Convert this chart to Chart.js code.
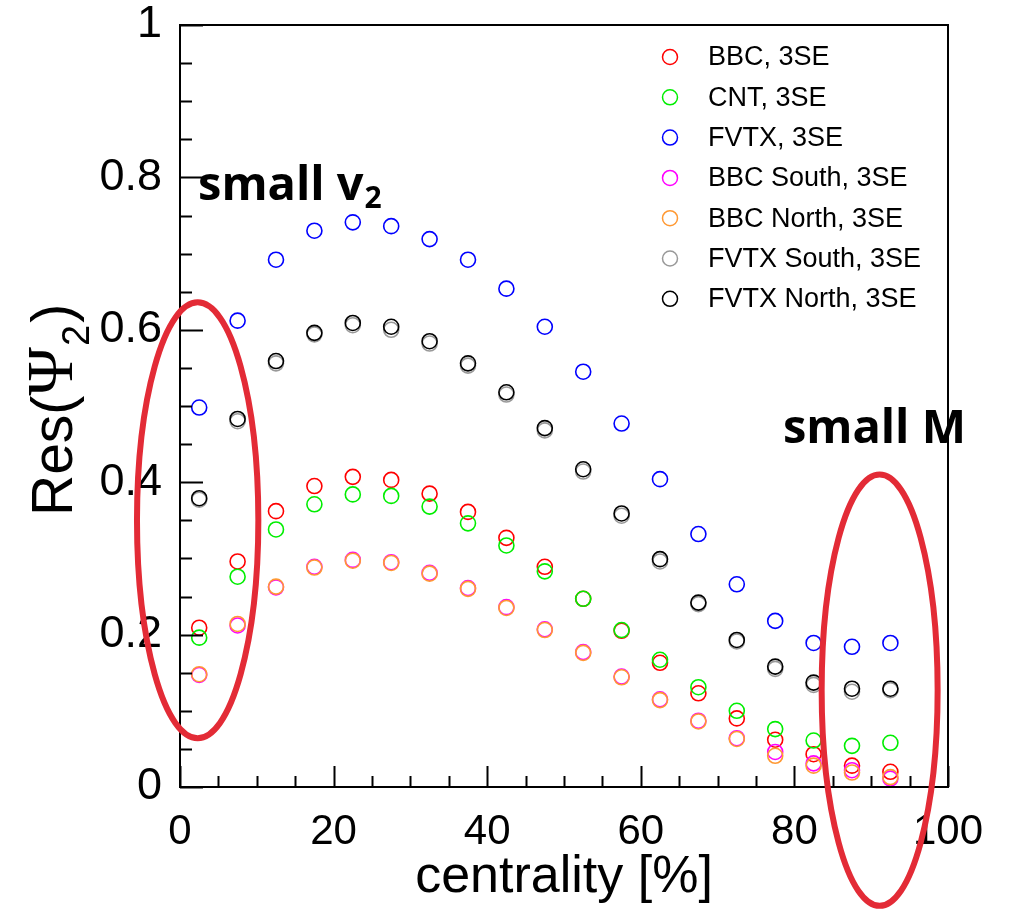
<!DOCTYPE html>
<html>
<head>
<meta charset="utf-8">
<script src="https://cdn.jsdelivr.net/npm/chart.js@4.4.0/dist/chart.umd.min.js"></script>
<style>
  html, body { margin: 0; padding: 0; background: #fff; }
  canvas { display: block; }
</style>
</head>
<body>
<canvas id="grafico" width="1011" height="909"></canvas>
<script>
// Centralidade (centro de cada bin de 5%)
const centralidade = [2.5, 7.5, 12.5, 17.5, 22.5, 27.5, 32.5, 37.5, 42.5, 47.5, 52.5, 57.5, 62.5, 67.5, 72.5, 77.5, 82.5, 87.5, 92.5];

// Resolucao Res(Psi_2) por detector
const bbc       = [0.209, 0.296, 0.362, 0.395, 0.407, 0.403, 0.385, 0.361, 0.327, 0.289, 0.247, 0.205, 0.163, 0.123, 0.090, 0.062, 0.043, 0.028, 0.020];
const cnt       = [0.196, 0.276, 0.338, 0.371, 0.384, 0.382, 0.368, 0.346, 0.317, 0.283, 0.247, 0.206, 0.167, 0.131, 0.100, 0.076, 0.061, 0.054, 0.058];
const fvtx      = [0.498, 0.612, 0.692, 0.730, 0.741, 0.736, 0.719, 0.692, 0.654, 0.604, 0.545, 0.477, 0.404, 0.332, 0.266, 0.218, 0.189, 0.184, 0.189];
const bbcSouth  = [0.147, 0.212, 0.262, 0.289, 0.298, 0.295, 0.281, 0.261, 0.236, 0.207, 0.177, 0.145, 0.115, 0.087, 0.064, 0.046, 0.031, 0.022, 0.011];
const bbcNorth  = [0.148, 0.214, 0.263, 0.288, 0.297, 0.294, 0.280, 0.260, 0.235, 0.206, 0.176, 0.144, 0.114, 0.086, 0.063, 0.041, 0.028, 0.019, 0.013];
const fvtxSouth = [0.377, 0.480, 0.556, 0.594, 0.606, 0.600, 0.582, 0.553, 0.515, 0.468, 0.414, 0.356, 0.296, 0.240, 0.191, 0.155, 0.134, 0.125, 0.127];
const fvtxNorth = [0.379, 0.483, 0.559, 0.596, 0.609, 0.604, 0.585, 0.556, 0.518, 0.471, 0.417, 0.359, 0.299, 0.242, 0.193, 0.158, 0.137, 0.129, 0.129];

const nomes  = ['BBC, 3SE', 'CNT, 3SE', 'FVTX, 3SE', 'BBC South, 3SE', 'BBC North, 3SE', 'FVTX South, 3SE', 'FVTX North, 3SE'];
const series = [bbc, cnt, fvtx, bbcSouth, bbcNorth, fvtxSouth, fvtxNorth];
const cores  = ['#ff0000', '#00ee00', '#0000ff', '#ff00ff', '#ff9933', '#999999', '#000000'];

// Ticks dos eixos
const ticksX = [0, 20, 40, 60, 80, 100];
const ticksY = [0, 0.2, 0.4, 0.6, 0.8, 1];

// Anotacoes (elipses em coordenadas de dados)
const elipses = [
    { cx: 2.3, cy: 0.350, rx: 7.9, ry: 0.286 },
    { cx: 91.1, cy: 0.127, rx: 7.55, ry: 0.283 }
];

const datasets = series.map((valores, i) => ({
    label: nomes[i],
    data: valores.map((v, j) => ({ x: centralidade[j], y: v })),
    borderColor: cores[i],
    backgroundColor: 'rgba(0,0,0,0)',
    pointRadius: 7.5,
    pointBorderWidth: 1.6,
    pointHoverRadius: 7.5,
    showLine: false,
    order: series.length - i // ultimos desenhados por cima, como no ROOT
}));

const SANS = '"Liberation Sans", Arial, sans-serif';

// Plugin: moldura, ticks internos, titulo Y, legenda e anotacoes
const estiloRoot = {
    id: 'estiloRoot',
    afterDraw(chart) {
        const ctx = chart.ctx;
        const a = chart.chartArea;
        const sx = chart.scales.x, sy = chart.scales.y;
        ctx.save();

        // ticks (major e minor), para dentro
        ctx.strokeStyle = '#000';
        ctx.lineWidth = 2;
        ctx.beginPath();
        for (let v = 0; v <= 100.001; v += 5) {
            const px = Math.round(sx.getPixelForValue(v)) + 0.5;
            const len = (v % 20 === 0) ? 21 : 11;
            ctx.moveTo(px, a.bottom);
            ctx.lineTo(px, a.bottom - len);
        }
        for (let k = 0; k <= 20; k++) {
            const v = k * 0.05;
            const py = Math.round(sy.getPixelForValue(v)) + 0.5;
            const len = (k % 4 === 0) ? 23 : 12;
            ctx.moveTo(a.left, py);
            ctx.lineTo(a.left + len, py);
        }
        ctx.stroke();

        // moldura
        ctx.lineWidth = 2;
        ctx.strokeRect(a.left, a.top, a.right - a.left, a.bottom - a.top);

        // titulo do eixo Y: Res(Psi_2)
        ctx.save();
        ctx.translate(72, 516);
        ctx.rotate(-Math.PI / 2);
        ctx.fillStyle = '#000';
        ctx.textBaseline = 'alphabetic';
        ctx.textAlign = 'left';
        let x = 0;
        ctx.font = '57px ' + SANS;
        ctx.fillText('Res(', x, 0);
        x += ctx.measureText('Res(').width;
        ctx.font = '66px "Liberation Serif", "DejaVu Serif", serif';
        ctx.fillText('\u03A8', x, 0);
        x += ctx.measureText('\u03A8').width;
        ctx.font = '38px ' + SANS;
        ctx.fillText('2', x + 1, 17);
        x += ctx.measureText('2').width + 3;
        ctx.font = '57px ' + SANS;
        ctx.fillText(')', x, 0);
        ctx.restore();

        // legenda
        ctx.textBaseline = 'middle';
        ctx.textAlign = 'left';
        ctx.font = '27px ' + SANS;
        nomes.forEach((nome, i) => {
            const yy = 57 + i * 40.3;
            ctx.beginPath();
            ctx.arc(670, yy, 7.5, 0, Math.PI * 2);
            ctx.strokeStyle = cores[i];
            ctx.lineWidth = 1.5;
            ctx.stroke();
            ctx.fillStyle = '#000';
            ctx.fillText(nome, 708, yy + 1);
        });

        // elipses vermelhas
        ctx.strokeStyle = '#e32b36';
        ctx.lineWidth = 6;
        elipses.forEach(e => {
            const cx = sx.getPixelForValue(e.cx), cy = sy.getPixelForValue(e.cy);
            const rx = sx.getPixelForValue(e.cx + e.rx) - cx;
            const ry = cy - sy.getPixelForValue(e.cy + e.ry);
            ctx.beginPath();
            ctx.ellipse(cx, cy, rx, ry, 0, 0, Math.PI * 2);
            ctx.stroke();
        });

        // textos das anotacoes
        ctx.fillStyle = '#000';
        ctx.textBaseline = 'alphabetic';
        const BOLD = 'bold 47px "Open Sans", "Noto Sans", sans-serif';
        ctx.font = BOLD;
        let tx = sx.getPixelForValue(2.35), ty = sy.getPixelForValue(0.770);
        ctx.fillText('small v', tx, ty);
        tx += ctx.measureText('small v').width;
        ctx.font = 'bold 30px "Open Sans", "Noto Sans", sans-serif';
        ctx.fillText('2', tx + 1, ty + 8);
        ctx.font = BOLD;
        ctx.fillText('small M', sx.getPixelForValue(78.5), sy.getPixelForValue(0.451));

        ctx.restore();
    }
};

new Chart(document.getElementById('grafico').getContext('2d'), {
    type: 'scatter',
    data: { datasets: datasets },
    options: {
        responsive: false,
        animation: false,
        devicePixelRatio: 1,
        layout: { padding: { left: 0, top: 25, right: 63, bottom: 0 } },
        plugins: {
            legend: { display: false },
            tooltip: { enabled: false }
        },
        scales: {
            x: {
                type: 'linear',
                min: 0,
                max: 100,
                afterBuildTicks: s => { s.ticks = ticksX.map(v => ({ value: v })); },
                afterFit: s => { s.height = 122; s.paddingLeft = 0; s.paddingRight = 0; },
                grid: { display: false },
                border: { display: false },
                ticks: {
                    color: '#000',
                    padding: 12,
                    maxRotation: 0,
                    font: { family: SANS, size: 42 },
                    callback: v => String(v)
                },
                title: {
                    display: true,
                    text: 'centrality [%]',
                    color: '#000',
                    font: { family: SANS, size: 52 },
                    padding: { top: 0, bottom: 0 }
                }
            },
            y: {
                type: 'linear',
                min: 0,
                max: 1,
                afterBuildTicks: s => { s.ticks = ticksY.map(v => ({ value: v })); },
                afterFit: s => { s.width = 180; s.paddingTop = 0; s.paddingBottom = 0; },
                grid: { display: false },
                border: { display: false },
                ticks: {
                    color: '#000',
                    padding: 10,
                    font: { family: SANS, size: 45 },
                    callback: v => String(v)
                }
            }
        }
    },
    plugins: [estiloRoot]
});
</script>
</body>
</html>
